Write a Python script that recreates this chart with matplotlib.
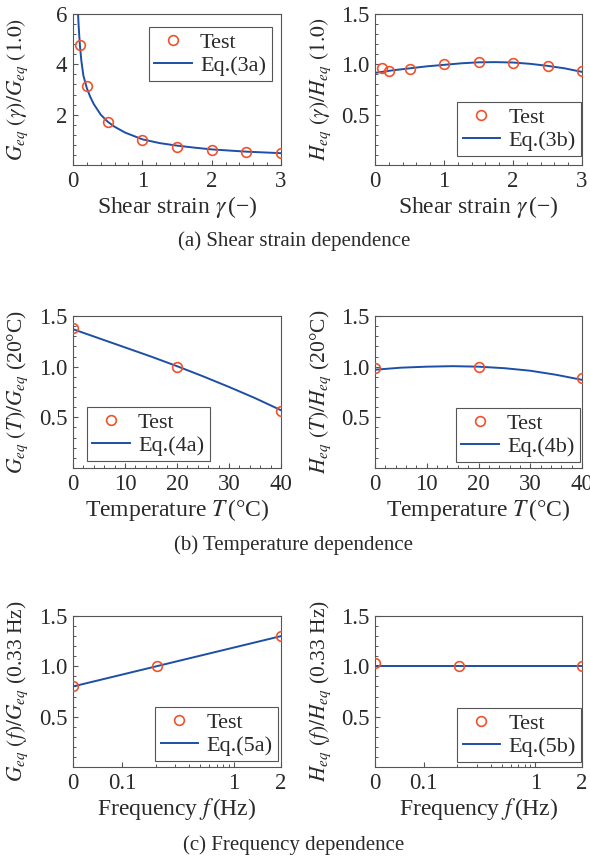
import numpy as np
import matplotlib
matplotlib.use("Agg")
import matplotlib.pyplot as plt
from matplotlib.ticker import MultipleLocator, FixedLocator, NullFormatter

plt.rcParams['font.family'] = ['Liberation Serif', 'DejaVu Serif']
plt.rcParams['mathtext.fontset'] = 'stix'

# ---- data ----
# (a) shear strain dependence
gamma_test = [0.1, 0.2, 0.5, 1.0, 1.5, 2.0, 2.5, 3.0]
G_gamma_test = [4.75, 3.12, 1.70, 1.0, 0.73, 0.59, 0.51, 0.46]
H_gamma_test = [0.96, 0.93, 0.95, 1.005, 1.022, 1.017, 0.98, 0.93]

gamma_fit = [0.073, 0.08, 0.09, 0.1, 0.12, 0.15, 0.2, 0.25, 0.3, 0.4, 0.5,
             0.6, 0.75, 1.0, 1.25, 1.5, 1.75, 2.0, 2.5, 3.0]
G_gamma_fit = [6.0, 5.6, 5.15, 4.75, 4.15, 3.55, 3.05, 2.7, 2.42, 2.0, 1.72,
               1.52, 1.29, 1.02, 0.87, 0.77, 0.69, 0.62, 0.53, 0.47]
gamma_fit_h = [0.0, 0.25, 0.5, 0.75, 1.0, 1.25, 1.5, 1.75, 2.0, 2.25, 2.5, 2.75, 3.0]
H_gamma_fit = [0.915, 0.94, 0.96, 0.98, 0.995, 1.01, 1.02, 1.022, 1.018,
               1.005, 0.985, 0.96, 0.925]

# (b) temperature dependence
T_test = [0, 20, 40]
G_T_test = [1.385, 1.0, 0.565]
H_T_test = [0.99, 1.0, 0.89]
T_fit = [0, 5, 10, 15, 20, 25, 30, 35, 40]
G_T_fit = [1.37, 1.28, 1.19, 1.10, 1.005, 0.905, 0.80, 0.69, 0.57]
H_T_fit = [0.97, 0.99, 1.0, 1.005, 1.0, 0.985, 0.96, 0.92, 0.87]

# (c) frequency dependence
f_lo, f_hi = 0.0366, 2.62
f_test = [f_lo, 0.205, f_hi]
G_f_test = [0.80, 1.0, 1.30]
H_f_test = [1.03, 1.0, 1.0]
f_fit = [f_lo, f_hi]
G_f_fit = [0.80, 1.30]
H_f_fit = [1.0, 1.0]
f_ticks = [f_lo, 0.1, 1, f_hi]
f_ticklabels = ['0', '0.1', '1', '2']

captions = ['(a) Shear strain dependence', '(b) Temperature dependence',
            '(c) Frequency dependence']

# ---- styling ----
W, H = 590, 859
red = '#f0522c'
blue = '#1c4fa6'
spine_c = '#555555'
txt_c = '#2a2a2a'
degC = '°C'

fig = plt.figure(figsize=(W / 100, H / 100), dpi=100)


def add_ax(l, t, r, b):
    return fig.add_axes([l / W, 1 - b / H, (r - l) / W, (b - t) / H])


def style(ax, ylabel, xlabel):
    for s in ax.spines.values():
        s.set_color(spine_c)
        s.set_linewidth(0.8)
    ax.tick_params(which='both', direction='in', colors=spine_c,
                   labelcolor=txt_c, labelsize=16.5, top=False, right=False)
    ax.tick_params(which='major', length=3.5, width=0.8, pad=4)
    ax.tick_params(which='minor', length=2.5, width=0.7)
    ax.set_ylabel(ylabel, fontsize=15.5, color=txt_c)
    ax.set_xlabel(xlabel, fontsize=17, color=txt_c)
    ax.yaxis.set_label_coords(-0.205, 0.5)
    ax.xaxis.set_label_coords(0.5, -0.19)


def draw(ax, xt, yt, xf, yf, eq, anchor):
    ax.plot(xt, yt, 'o', ms=7, mfc='none', mec=red, mew=1.2, label='Test', zorder=3)
    ax.plot(xf, yf, '-', color=blue, lw=1.4, label=eq, zorder=2)
    leg = ax.legend(loc='upper left', bbox_to_anchor=anchor, borderaxespad=0,
                    fontsize=16, numpoints=1, handlelength=1.7, handletextpad=0.35,
                    labelspacing=0.1, borderpad=0.25, fancybox=False, framealpha=1)
    leg.get_frame().set_edgecolor(spine_c)
    leg.get_frame().set_linewidth(0.8)
    for t in leg.get_texts():
        t.set_color(txt_c)


xl = (73, 281)
xr = (375, 582)
rows = [(14, 165), (316, 468), (616, 767)]

# row a
ax1 = add_ax(xl[0], rows[0][0], xl[1], rows[0][1])
draw(ax1, gamma_test, G_gamma_test, gamma_fit, G_gamma_fit, 'Eq.(3a)', (0.365, 0.914))
ax1.set_xlim(0, 3)
ax1.set_ylim(0, 6)
ax1.set_yticks([2, 4, 6])
ax1.yaxis.set_minor_locator(MultipleLocator(0.4))
ax1.xaxis.set_major_locator(MultipleLocator(1))
ax1.xaxis.set_minor_locator(MultipleLocator(0.2))
style(ax1, r'$G_{eq}\ (\gamma)/G_{eq}\ (1.0)$', r'Shear strain $\gamma\,$(−)')

ax2 = add_ax(xr[0], rows[0][0], xr[1], rows[0][1])
draw(ax2, gamma_test, H_gamma_test, gamma_fit_h, H_gamma_fit, 'Eq.(3b)', (0.396, 0.417))
ax2.set_xlim(0, 3)
ax2.set_ylim(0, 1.5)
ax2.set_yticks([0.5, 1.0, 1.5])
ax2.yaxis.set_minor_locator(MultipleLocator(0.1))
ax2.xaxis.set_major_locator(MultipleLocator(1))
ax2.xaxis.set_minor_locator(MultipleLocator(0.2))
style(ax2, r'$H_{eq}\ (\gamma)/H_{eq}\ (1.0)$', r'Shear strain $\gamma\,$(−)')

# row b
ax3 = add_ax(xl[0], rows[1][0], xl[1], rows[1][1])
draw(ax3, T_test, G_T_test, T_fit, G_T_fit, 'Eq.(4a)', (0.067, 0.401))
ax4 = add_ax(xr[0], rows[1][0], xr[1], rows[1][1])
draw(ax4, T_test, H_T_test, T_fit, H_T_fit, 'Eq.(4b)', (0.391, 0.395))
for ax in (ax3, ax4):
    ax.set_xlim(0, 40)
    ax.set_ylim(0, 1.5)
    ax.set_yticks([0.5, 1.0, 1.5])
    ax.yaxis.set_minor_locator(MultipleLocator(0.1))
    ax.xaxis.set_major_locator(MultipleLocator(10))
    ax.xaxis.set_minor_locator(MultipleLocator(2))
style(ax3, r'$G_{eq}\ (T)/G_{eq}$ (20' + degC + ')', r'Temperature $T\,$(' + degC + ')')
style(ax4, r'$H_{eq}\ (T)/H_{eq}$ (20' + degC + ')', r'Temperature $T\,$(' + degC + ')')

# row c
ax5 = add_ax(xl[0], rows[2][0], xl[1], rows[2][1])
draw(ax5, f_test, G_f_test, f_fit, G_f_fit, 'Eq.(5a)', (0.394, 0.397))
ax6 = add_ax(xr[0], rows[2][0], xr[1], rows[2][1])
draw(ax6, f_test, H_f_test, f_fit, H_f_fit, 'Eq.(5b)', (0.396, 0.391))
for ax in (ax5, ax6):
    ax.set_xscale('log')
    ax.set_xlim(f_lo, f_hi)
    ax.xaxis.set_major_locator(FixedLocator(f_ticks))
    ax.set_xticklabels(f_ticklabels)
    ax.xaxis.set_minor_locator(FixedLocator([0.2, 0.3, 0.4, 0.5, 0.6, 0.7, 0.8, 0.9]))
    ax.xaxis.set_minor_formatter(NullFormatter())
    ax.set_ylim(0, 1.5)
    ax.set_yticks([0.5, 1.0, 1.5])
    ax.yaxis.set_minor_locator(MultipleLocator(0.1))
style(ax5, r'$G_{eq}\ (f)/G_{eq}$ (0.33 Hz)', r'Frequency $f\,$(Hz)')
style(ax6, r'$H_{eq}\ (f)/H_{eq}$ (0.33 Hz)', r'Frequency $f\,$(Hz)')

for cap, y in zip(captions, [241, 545, 845]):
    fig.text(294 / W, 1 - y / H, cap, ha='center', va='center', fontsize=15, color=txt_c)

fig.savefig('out.png', dpi=100)
